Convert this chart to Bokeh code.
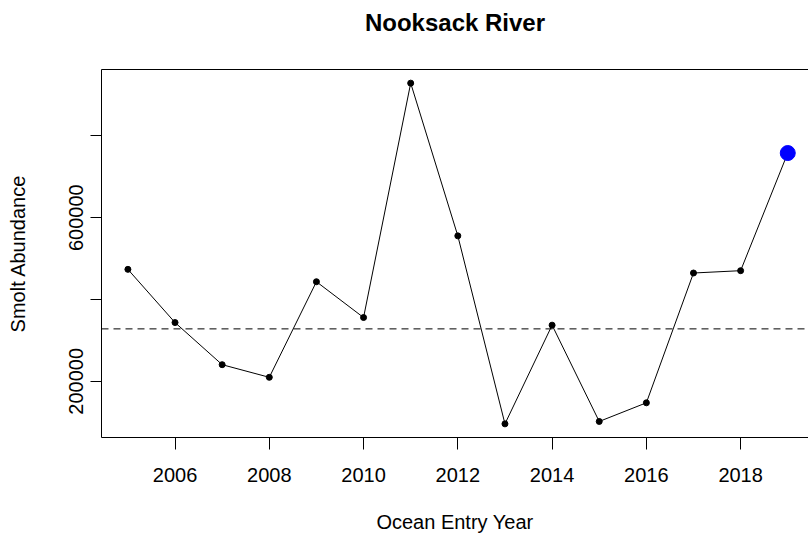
from bokeh.plotting import figure
from bokeh.models import FixedTicker, LinearAxis, Span, Range1d
from bokeh.embed import file_html
from bokeh.resources import INLINE

# ---- data ----
years = [2005, 2006, 2007, 2008, 2009, 2010, 2011, 2012, 2013, 2014, 2015, 2016, 2017, 2018, 2019]
abundance = [473700, 343700, 240700, 209800, 443500, 356000, 929000, 555600,
             96000, 337300, 101900, 147500, 464800, 470500, 758100]
highlight_year = [2019]
highlight_value = [758100]
reference_level = 328200
x_ticks = [2006, 2008, 2010, 2012, 2014, 2016, 2018]
y_ticks = [200000, 400000, 600000, 800000]
y_tick_labels = {200000: "200000", 400000: "", 600000: "600000", 800000: ""}

FONT = "Liberation Sans"

# R-style 4% padding of the data ranges
xs = max(years) - min(years)
ys = max(abundance) - min(abundance)
x_range = Range1d(min(years) - 0.04 * xs, max(years) + 0.04 * xs - 0.12)
y_range = Range1d(min(abundance) - 0.04 * ys, max(abundance) + 0.04 * ys)

p = figure(width=808, height=535, output_backend="svg", toolbar_location=None,
           x_range=x_range, y_range=y_range,
           min_border_left=101, min_border_right=0, min_border_top=69, min_border_bottom=98)
p.background_fill_color = "white"
p.border_fill_color = "white"
p.outline_line_color = None
p.xgrid.visible = False
p.ygrid.visible = False

p.title.text = "Nooksack River"
p.title.text_font = FONT
p.title.text_font_size = "24px"
p.title.text_font_style = "bold"
p.title.text_color = "black"
p.title.align = "center"
p.title.offset = 3
p.title.standoff = 0

xb = p.below[0]
yl = p.left[0]

for ax in (xb, yl):
    ax.axis_line_color = "black"
    ax.axis_line_width = 1
    ax.major_tick_line_color = "black"
    ax.major_tick_in = 0
    ax.minor_tick_line_color = None
    ax.major_label_text_font = FONT
    ax.major_label_text_font_size = "20px"
    ax.major_label_text_color = "black"
    ax.axis_label_text_font = FONT
    ax.axis_label_text_font_size = "20px"
    ax.axis_label_text_font_style = "normal"
    ax.axis_label_text_color = "black"

xb.ticker = FixedTicker(ticks=x_ticks)
xb.major_tick_out = 12
xb.major_label_standoff = 18
xb.axis_label = "Ocean Entry Year"
xb.axis_label_standoff = 26

yl.ticker = FixedTicker(ticks=y_ticks)
yl.major_label_overrides = y_tick_labels
yl.major_label_orientation = "vertical"
yl.major_tick_out = 11
yl.major_label_standoff = 7
yl.axis_label = "Smolt Abundance"
yl.axis_label_standoff = 38

# top border of the box: an axis whose ticks and labels are invisible; their
# reserved space keeps the title well above the box, as in the R figure
top = LinearAxis(ticker=FixedTicker(ticks=x_ticks), major_tick_out=34, major_tick_in=0,
                 minor_tick_out=0, minor_tick_in=0, major_label_standoff=0,
                 minor_tick_line_color=None, major_tick_line_color=None,
                 major_label_text_font_size="1px", major_label_text_alpha=0,
                 axis_line_color="black", axis_line_width=1)
p.add_layout(top, "above")

p.add_layout(Span(location=reference_level, dimension="width", line_color="black",
                  line_width=1, line_dash="7 5"))

p.line(years, abundance, line_color="black", line_width=1)
p.scatter(years[:-1], abundance[:-1], size=6, color="black")
p.scatter(highlight_year, highlight_value, size=15, color="#0000FF")

open("out.html", "w").write(file_html(p, INLINE))
